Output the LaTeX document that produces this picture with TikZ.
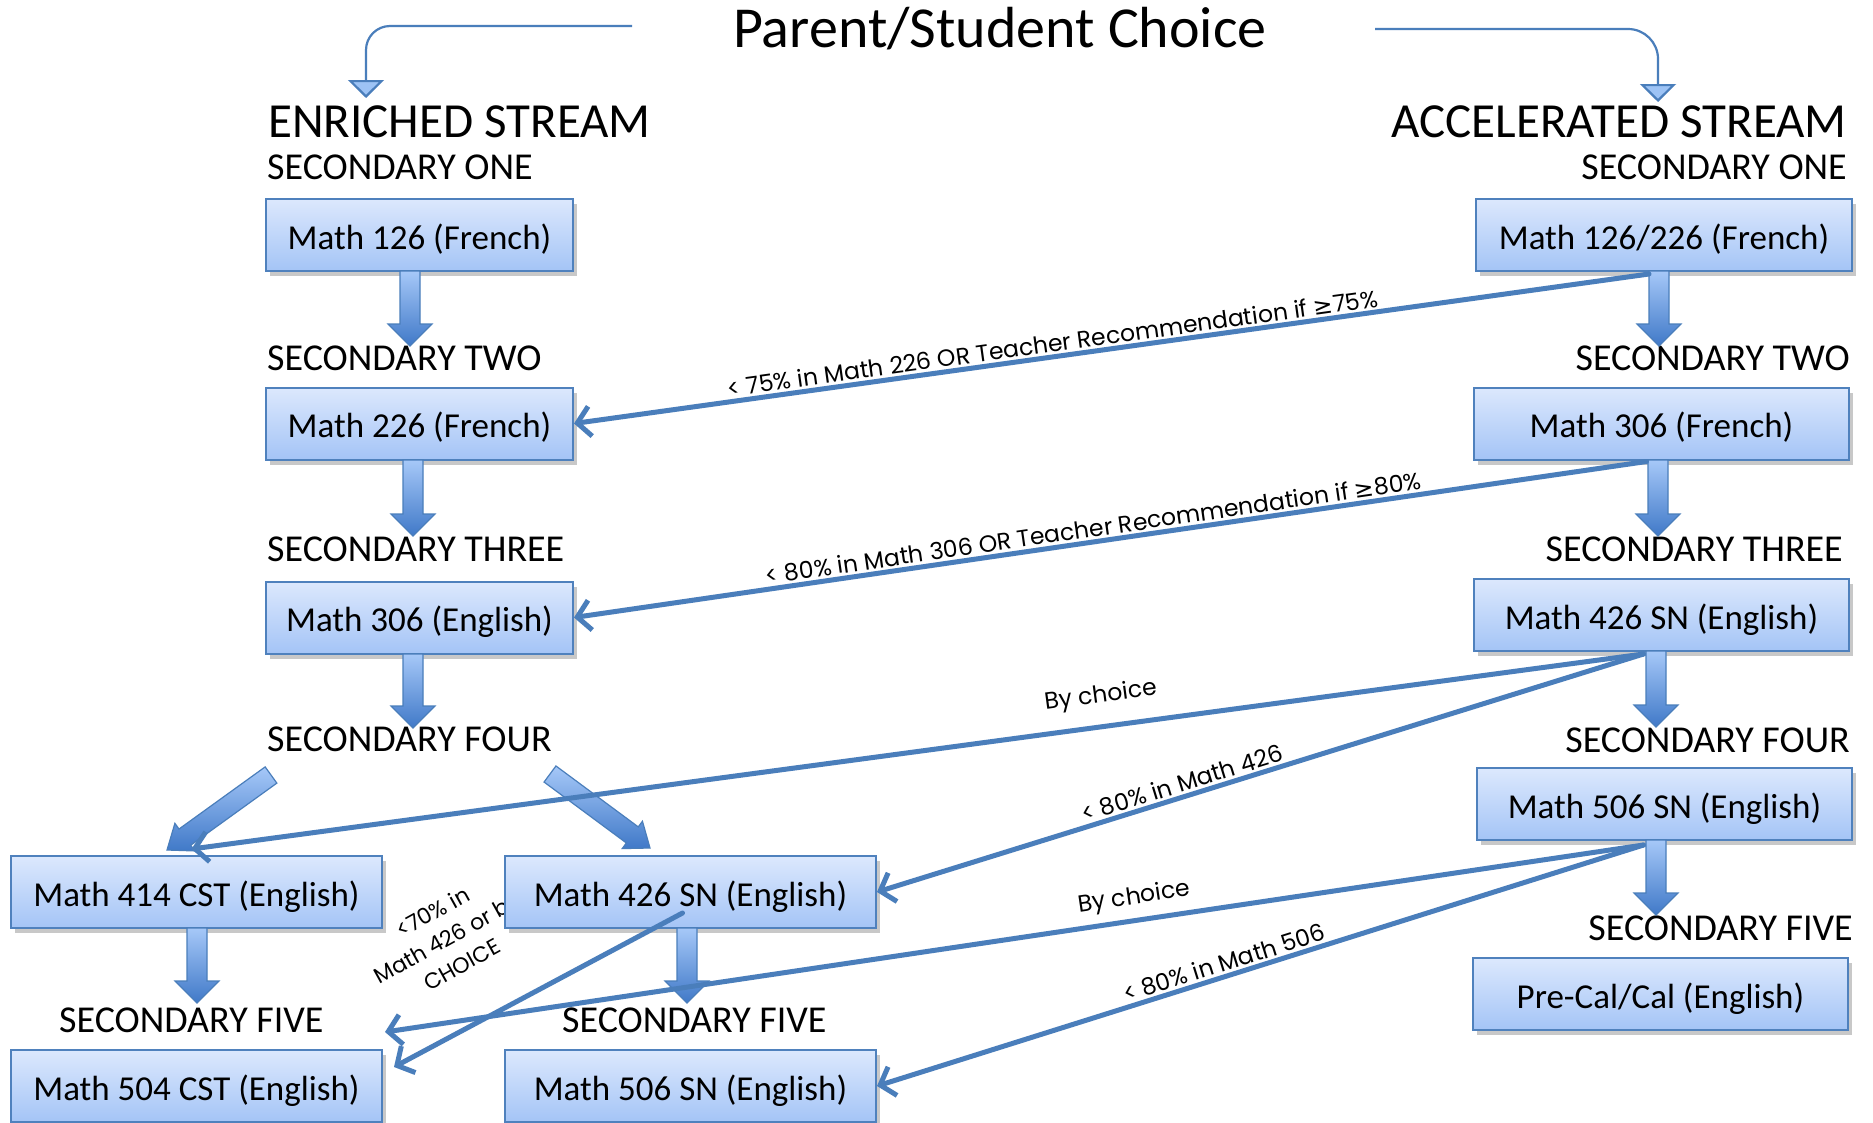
\documentclass[tikz,border=0pt]{standalone}
\usepackage{fontspec}
\setmainfont{Carlito}
\newfontfamily\lblfont{Poppins}
\newfontfamily\symfont{DejaVu Sans}
\usetikzlibrary{calc,shadows,arrows.meta}
\definecolor{boxtop}{HTML}{DCE8FD}
\definecolor{boxbot}{HTML}{A4C4F6}
\definecolor{boxline}{HTML}{4F81BD}
\definecolor{arrtop}{HTML}{A6C8F8}
\definecolor{arrbot}{HTML}{4079C8}
\definecolor{arrline}{HTML}{4A7EBB}
\definecolor{connc}{HTML}{4A7EBB}
\definecolor{tipfill}{HTML}{9DC3F5}
\newcommand\myblockarrow[3][22pt]{%
  \coordinate (ba-c) at ($(#3)!22pt!(#2)$);
  \shade[barrow] ($(#2)!10pt!90:(#3)$) -- ($(ba-c)!10pt!90:(#3)$) -- ($(ba-c)!#1!90:(#3)$) -- (#3) -- ($(ba-c)!#1!-90:(#3)$) -- ($(ba-c)!10pt!-90:(#3)$) -- ($(#2)!10pt!-90:(#3)$) -- cycle;}
\tikzset{
  box/.style={draw=boxline, line width=2pt, top color=boxtop, bottom color=boxbot,
    minimum height=72pt, inner sep=0pt, text height=35pt, text depth=7pt,
    font=\fontsize{35}{40}\selectfont,
    drop shadow={shadow xshift=4pt, shadow yshift=-5pt, opacity=0.3, fill=black!70}},
  lvl/.style={inner sep=0pt, font=\fontsize{38}{42}\selectfont},
  head/.style={inner sep=0pt, font=\fontsize{49}{54}\selectfont},
  barrow/.style={top color=arrtop, bottom color=arrbot, draw=arrline, line width=1.2pt},
  conn/.style={draw=connc, line width=5pt, line cap=round, -{Straight Barb[length=13pt,width=30pt]}},
  lbl/.style={font=\lblfont\fontsize{23.5}{28}\selectfont, sloped, above, inner sep=2pt},
  toparr/.style={draw=connc, line width=2.2pt, -{Triangle[width=36pt,length=18pt,fill=tipfill]}},
}
\begin{document}
\begin{tikzpicture}[x=1pt,y=-1pt]
\fill[white] (0,0) rectangle (1873,1122);
\useasboundingbox (0,0) rectangle (1873,1122);
% title and top arrows
\node[inner sep=0pt, anchor=base west, font=\fontsize{58}{62}\selectfont] (title) at (733,47) {Parent/Student Choice};
\coordinate (la0) at (632,26); \coordinate (la1) at (366,98);
\coordinate (ra0) at (1375,29); \coordinate (ra1) at (1658,102);
\draw[toparr, rounded corners=24pt] (la0) -| (la1);
\draw[toparr, rounded corners=30pt] (ra0) -| (ra1);
% headings
\node[head, anchor=base west] (ehead) at (268,137) {ENRICHED STREAM};
\node[head, anchor=base east] (ahead) at (1847,137) {ACCELERATED STREAM};
% level labels
\node[lvl, anchor=base west] (e1) at (267,179) {SECONDARY ONE};
\node[lvl, anchor=base west] (e2) at (267,370) {SECONDARY TWO};
\node[lvl, anchor=base west] (e3) at (267,561) {SECONDARY THREE};
\node[lvl, anchor=base west] (e4) at (267,751) {SECONDARY FOUR};
\node[lvl, anchor=base west] (e5a) at (59,1032) {SECONDARY FIVE};
\node[lvl, anchor=base west] (e5b) at (562,1032) {SECONDARY FIVE};
\node[lvl, anchor=base east] (a1) at (1847,179) {SECONDARY ONE};
\node[lvl, anchor=base east] (a2) at (1850,370) {SECONDARY TWO};
\node[lvl, anchor=base east] (a3) at (1843,561) {SECONDARY THREE};
\node[lvl, anchor=base east] (a4) at (1850,752) {SECONDARY FOUR};
\node[lvl, anchor=base east] (a5) at (1853,940) {SECONDARY FIVE};
% choice label (partly hidden by box)
\node[font=\lblfont\fontsize{22}{30}\selectfont, align=center, rotate=29, inner sep=0pt] (ch) at (447,938) {<70\% in\\Math 426 or by\\CHOICE};
% boxes
\node[box, minimum width=307pt] (en1) at (419.5,235) {Math 126 (French)};
\node[box, minimum width=307pt] (en2) at (419.5,423.5) {Math 226 (French)};
\node[box, minimum width=307pt] (en3) at (419.5,617.5) {Math 306 (English)};
\node[box, minimum width=371pt] (en4a) at (196.5,892) {Math 414 CST (English)};
\node[box, minimum width=371pt] (en4b) at (690.5,892) {Math 426 SN (English)};
\node[box, minimum width=371pt] (en5a) at (196.5,1086) {Math 504 CST (English)};
\node[box, minimum width=371pt] (en5b) at (690.5,1086) {Math 506 SN (English)};
\node[box, minimum width=376pt] (ac1) at (1664,235) {Math 126/226 (French)};
\node[box, minimum width=375pt] (ac2) at (1661.5,423.5) {Math 306 (French)};
\node[box, minimum width=375pt] (ac3) at (1661.5,615) {Math 426 SN (English)};
\node[box, minimum width=375pt] (ac4) at (1664.5,804) {Math 506 SN (English)};
\node[box, minimum width=375pt] (ac5) at (1660.5,994) {Pre-Cal/Cal (English)};
% block arrows
\coordinate (v1a) at (410,271); \coordinate (v1b) at (410,346);
\coordinate (v2a) at (413,460); \coordinate (v2b) at (413,536);
\coordinate (v3a) at (413,654); \coordinate (v3b) at (413,728);
\coordinate (v4a) at (197,928); \coordinate (v4b) at (197,1003);
\coordinate (v5a) at (687,928); \coordinate (v5b) at (687,1003);
\coordinate (v6a) at (1659,271); \coordinate (v6b) at (1659,346);
\coordinate (v7a) at (1658,460); \coordinate (v7b) at (1658,536);
\coordinate (v8a) at (1656,651); \coordinate (v8b) at (1656,727);
\coordinate (v9a) at (1656,840); \coordinate (v9b) at (1656,915);
\coordinate (d1a) at (271,775); \coordinate (d1b) at (167,850);
\coordinate (d2a) at (550,774); \coordinate (d2b) at (650,848);
\myblockarrow{v1a}{v1b}
\myblockarrow{v2a}{v2b}
\myblockarrow{v3a}{v3b}
\myblockarrow{v4a}{v4b}
\myblockarrow{v5a}{v5b}
\myblockarrow{v6a}{v6b}
\myblockarrow{v7a}{v7b}
\myblockarrow{v8a}{v8b}
\myblockarrow{v9a}{v9b}
\myblockarrow[17pt]{d1a}{d1b}
\myblockarrow[17pt]{d2a}{d2b}
% connector start / end points
\coordinate (s1) at ($(ac1.south)+(-15,2)$);
\coordinate (s2) at ($(ac2.south)+(-15,1)$);
\coordinate (s3) at ($(ac3.south)+(-18,2)$);
\coordinate (s4) at ($(ac4.south)+(-21,4)$);
\coordinate (s5) at ($(en4b.center)+(-8,21)$);
\coordinate (t3) at ($(en4a.north)+(-5,-6)$);
\coordinate (t5) at ($(en5a.north east)+(2,-17)$);
\coordinate (t7) at ($(en5a.east)+(11,-19)$);
% connectors
\draw[conn] (s1) -- node[lbl, pos=0.553] {< 75\% in Math 226 OR Teacher Recommendation if {\symfont ≥}75\%} (en2.east);
\draw[conn] (s2) -- node[lbl, pos=0.514] {< 80\% in Math 306 OR Teacher Recommendation if {\symfont ≥}80\%} (en3.east);
\draw[conn] (s3) -- node[lbl, pos=0.371, above=14pt] {By choice} (t3);
\draw[conn] (s3) -- node[lbl, pos=0.597] {< 80\% in Math 426} (en4b.east);
\draw[conn] (s4) -- node[lbl, pos=0.402, above=6pt] {By choice} (t5);
\draw[conn] (s4) -- node[lbl, pos=0.542] {< 80\% in Math 506} (en5b.east);
\draw[conn] (s5) -- (t7);
\end{tikzpicture}
\end{document}
